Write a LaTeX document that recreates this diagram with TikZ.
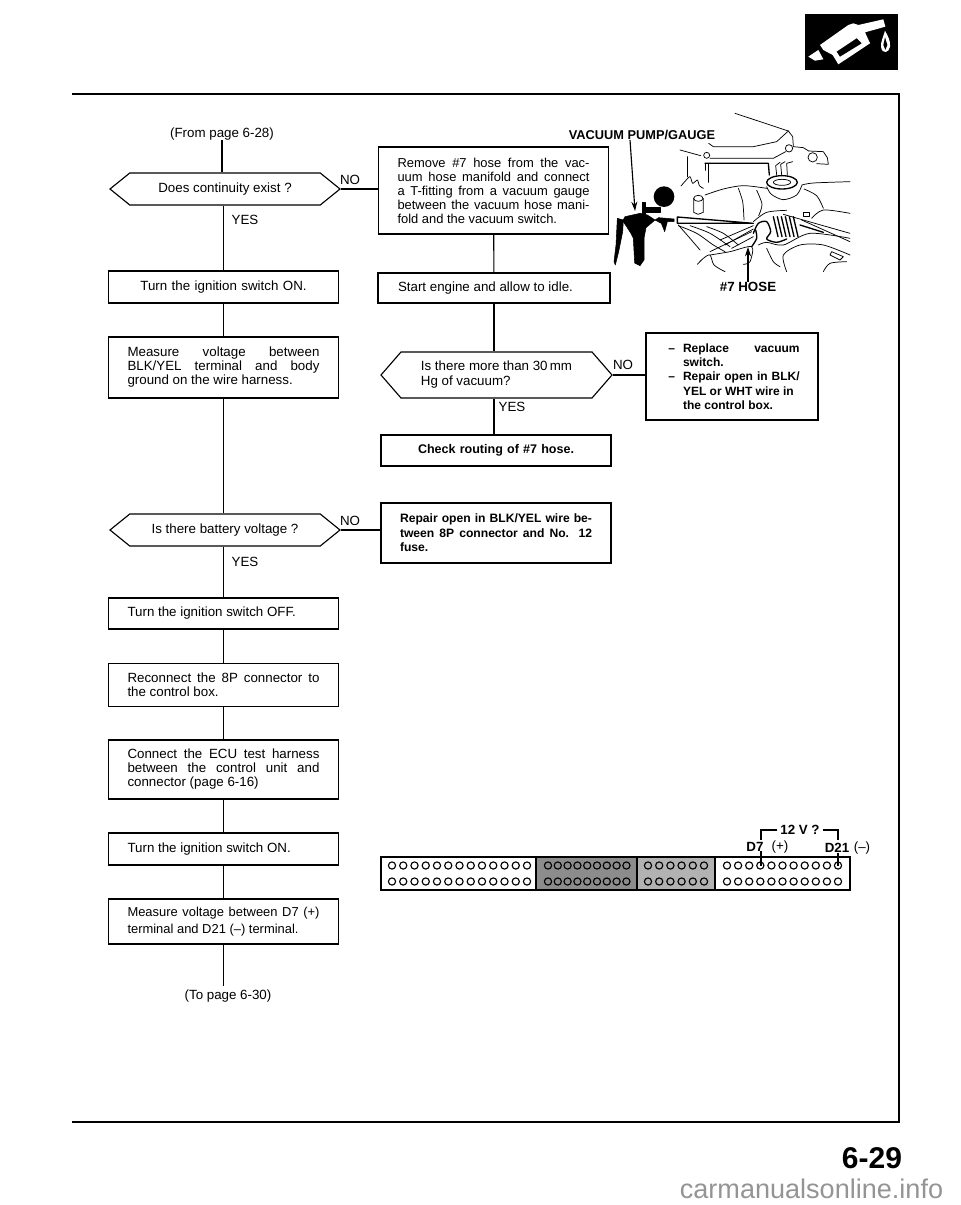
\documentclass[tikz,border=0pt]{standalone}
\usepackage{fontspec}
\setmainfont{Liberation Sans}
\usetikzlibrary{arrows.meta,shapes.symbols}
\newcommand{\fitline}[1]{\makebox[\hsize][s]{#1}}
\newcommand{\hangfit}[1]{\makebox[14pt][l]{\hspace*{3pt}--}\makebox[\dimexpr\hsize-14pt\relax][s]{#1}}
\begin{document}
\begin{tikzpicture}
% All coordinates in reference pixels
\def\pxsz{0.75pt}
\providecommand{\chartLineWidth}{0.85pt}
\providecommand{\frameLineWidth}{1.2pt}
\tikzset{
  chartnode/.style={draw=black, line width=\chartLineWidth, inner sep=1pt, font=\fontsize{10}{10.5}\selectfont},
  stepbox/.style={chartnode, rectangle, minimum width=229.5*\pxsz, text width=144pt, align=flush left},
  sidebox/.style={stepbox, minimum width=230*\pxsz},
  checkhex/.style={chartnode, signal, signal to=west and east, signal pointer angle=78, minimum width=230*\pxsz, minimum height=32*\pxsz, align=left},
  flowlabel/.style={inner sep=0pt, font=\fontsize{10}{12}\selectfont},
  boldlabel/.style={inner sep=0pt, font=\fontsize{10}{12}\selectfont\bfseries},
  flowline/.style={draw=black, line width=\chartLineWidth},
  pinhole/.style={draw=black, line width=0.85pt},
  sketch/.style={draw=black, line width=0.55pt, line join=round, line cap=round},
  heavy/.style={draw=black, line width=1pt, line join=round, line cap=round},
  solidpart/.style={fill=black, draw=black, line width=0.4pt, line join=round}
}
\begin{scope}[x=\pxsz, y=-\pxsz]
  \useasboundingbox (0,0) rectangle (960,1205);
  % Page frame
  \draw[line width=\frameLineWidth] (72,94) -- (899,94) -- (899,1122) -- (72,1122);
  % Left column
  \node[flowlabel] (frompage) at (222,134) {(From page 6-28)};
  \node[checkhex] (contq) at (225,189) {Does continuity exist ?};
  \node[flowlabel] (contyes) at (245,220) {YES};
  \node[flowlabel] (contno) at (350,180) {NO};
  \node[stepbox, minimum height=32*\pxsz, align=center] (ignon) at (223.5,287) {Turn the ignition switch ON.};
  \node[stepbox, minimum height=61*\pxsz] (measbk) at (223.5,367.5) {\fitline{Measure voltage between}\\\fitline{BLK/YEL terminal and body}\\ground on the wire harness.};
  \node[checkhex] (battq) at (225,530) {Is there battery voltage ?};
  \node[flowlabel] (battyes) at (245,562) {YES};
  \node[flowlabel] (battno) at (350,521) {NO};
  \node[stepbox, minimum height=31*\pxsz] (ignoff) at (223.5,613.5) {Turn the ignition switch OFF.};
  \node[stepbox, minimum height=43*\pxsz] (reconn) at (223.5,685) {\fitline{Reconnect the 8P connector to}\\the control box.};
  \node[stepbox, minimum height=59*\pxsz] (ecuconn) at (223.5,769.5) {\fitline{Connect the ECU test harness}\\\fitline{between the control unit and}\\connector (page 6-16)};
  \node[stepbox, minimum height=32*\pxsz] (ignontwo) at (223.5,849) {Turn the ignition switch ON.};
  \node[stepbox, minimum height=45*\pxsz, font=\fontsize{9.7}{12.8}\selectfont] (measdd) at (223.5,921.5) {\fitline{Measure voltage between D7 (+)}\\terminal and D21 (--) terminal.};
  \node[flowlabel] (topage) at (228,996) {(To page 6-30)};
  % Right column
  \node[sidebox, minimum height=87*\pxsz, font=\fontsize{9.7}{10.5}\selectfont] (hosebox) at (493.5,190.5) {\fitline{Remove \#7 hose from the vac-}\\\fitline{uum hose manifold and connect}\\\fitline{a T-fitting from a vacuum gauge}\\\fitline{between the vacuum hose mani-}\\fold and the vacuum switch.};
  \node[sidebox, minimum height=30*\pxsz, minimum width=232*\pxsz] (startbox) at (494,288) {Start engine and allow to idle.};
  \node[checkhex, signal pointer angle=98, minimum width=231*\pxsz, minimum height=46*\pxsz, font=\fontsize{10}{11.3}\selectfont] (vacq) at (496.5,375) {Is there more than 30\,mm\\Hg of vacuum?};
  \node[flowlabel] (vacyes) at (512,407) {YES};
  \node[flowlabel] (vacno) at (623,365) {NO};
  \node[sidebox, minimum height=31*\pxsz, align=center, font=\fontsize{9.4}{11}\selectfont\bfseries] (routebox) at (496,450.5) {Check routing of \#7 hose.};
  \node[sidebox, minimum height=60*\pxsz, font=\fontsize{9.1}{10.8}\selectfont\bfseries] (repairbox) at (496,533) {\fitline{Repair open in BLK/YEL wire be-}\\\fitline{tween 8P connector and No. 12}\\fuse.};
  \node[stepbox, minimum width=172*\pxsz, minimum height=87*\pxsz, text width=101.5pt, font=\fontsize{9}{10.7}\selectfont\bfseries] (replacebox) at (732,376.5) {\hangfit{Replace vacuum}\\\hspace*{14pt}switch.\\\hangfit{Repair open in BLK/}\\\hspace*{14pt}YEL or WHT wire in\\\hspace*{14pt}the control box.};
  % Connectors
  \draw[flowline] (frompage.south) -- (contq.north -| frompage.south);
  \draw[flowline] (contq.south -| ignon.north) -- (ignon.north);
  \draw[flowline] (ignon) -- (measbk);
  \draw[flowline] (measbk.south) -- (battq.north -| measbk.south);
  \draw[flowline] (battq.south -| ignoff.north) -- (ignoff.north);
  \draw[flowline] (ignoff) -- (reconn);
  \draw[flowline] (reconn) -- (ecuconn);
  \draw[flowline] (ecuconn) -- (ignontwo);
  \draw[flowline] (ignontwo) -- (measdd);
  \draw[flowline] (measdd.south) -- ([yshift=2.5pt]topage.north -| measdd.south);
  \draw[flowline] (contq.east) -- (contq.east -| hosebox.west);
  \draw[flowline] (battq.east) -- (battq.east -| repairbox.west);
  \draw[flowline] (hosebox) -- (startbox);
  \draw[flowline] (startbox.south) -- (vacq.north -| startbox.south);
  \draw[flowline] (vacq.south -| startbox.south) -- (routebox.north -| startbox.south);
  \draw[flowline] (vacq.east) -- (vacq.east -| replacebox.west);
  % Connector block
  \fill[black!45] (536,857) rectangle (637,890);
  \fill[black!30] (637,857) rectangle (715,890);
  \draw[line width=1.1pt] (381,857) rectangle (850,890);
  \draw[line width=1.1pt] (536,857) -- (536,890);
  \draw[line width=1.1pt] (637,857) -- (637,890);
  \draw[line width=1.1pt] (715,857) -- (715,890);
  \foreach \holey in {865.5,881.5} {
    \foreach \holen in {0,...,12} \draw[pinhole] ({392+\holen*11.25},\holey) circle[radius=3.6];
    \foreach \holen in {0,...,8} \draw[pinhole] ({548+\holen*9.8},\holey) circle[radius=3.6];
    \foreach \holen in {0,...,5} \draw[pinhole] ({648+\holen*11.2},\holey) circle[radius=3.6];
    \foreach \holen in {0,...,10} \draw[pinhole] ({727+\holen*11.1},\holey) circle[radius=3.6];
  }
  % Terminal labels
  \node[boldlabel] (voltlabel) at (800,830) {12 V ?};
  \node[boldlabel] (dseven) at (755,846.5) {D7};
  \node[flowlabel] (dsevensign) at (780,847) {(+)};
  \node[boldlabel] (dtwentyone) at (837,848) {D21};
  \node[flowlabel] (dtwentyonesign) at (862,848) {(--)};
  \coordinate (dsevenend) at (761,840);
  \coordinate (dtwentyoneend) at (838,840);
  \coordinate (dsevenhole) at (761,866);
  \coordinate (dtwentyonehole) at (838,866);
  \draw[flowline] ([xshift=-2pt]voltlabel.west) -| (dsevenend);
  \draw[flowline] ([xshift=2pt]voltlabel.east) -| (dtwentyoneend);
  \draw[flowline] (dseven.south -| dsevenhole) -- (dsevenhole);
  \draw[flowline] (dtwentyone.south -| dtwentyonehole) -- (dtwentyonehole);
  % Engine sketch
  \node[inner sep=0pt, font=\fontsize{9.6}{12}\selectfont\bfseries] (pumplabel) at (642,135) {VACUUM PUMP/GAUGE};
  \node[boldlabel] (hoselabel) at (748,287) {\#7 HOSE};
  \coordinate (pumptip) at (635,211);
  \coordinate (hosetip) at (748,247);
  \draw[line width=0.85pt, -{Stealth[length=7pt,width=4.5pt]}] ([xshift=-9pt]pumplabel.south) -- (pumptip);
  \draw[line width=0.85pt, -{Stealth[length=7pt,width=4.5pt]}] (hoselabel.north) -- (hosetip);
  \begin{scope}[shift={(610,105)}, x=0.25pt, y=-0.25pt]
    % Gauge
    \fill (162,275) circle[radius=31];
    \draw[solidpart] (100,308) rectangle (150,322);
    \draw[solidpart] (97,292) rectangle (106,335);
    \draw[solidpart] (146,338) -- (192,342) -- (192,350) -- (172,350) -- (164,380) -- (154,355) -- (135,345) -- cycle;
    \draw[solidpart] (45,335) -- (90,325) -- (112,330) -- (135,345) -- (108,368) -- (102,400) -- (102,465) -- (90,482) -- (74,474) -- (70,400) -- (62,384) -- (48,362) -- (38,348) -- cycle;
    \draw[solidpart] (22,340) -- (40,345) -- (38,380) -- (26,440) -- (16,480) -- (12,470) -- (18,420) -- cycle;
    % Upper bracket
    \draw[sketch] (375,25) -- (535,78) -- (548,95) -- (550,125) -- (580,128) -- (596,138);
    \draw[sketch] (535,78) -- (500,110) -- (430,125) -- (310,125) -- (296,115);
    \draw[sketch] (608,157) circle[radius=14];
    \draw[sketch] (596,138) -- (640,140) -- (652,158) -- (655,178) -- (620,176);
    \draw[sketch] (210,135) -- (272,152);
    \draw[sketch] (290,151) circle[radius=9];
    \draw[sketch] (537,130) circle[radius=11];
    \draw[sketch] (300,160) -- (490,160) -- (527,140);
    \draw[heavy] (285,175) -- (475,175) -- (478,210);
    \draw[sketch] (285,175) -- (285,196);
    \draw[sketch] (296,178) -- (296,232);
    \draw[sketch] (232,155) -- (232,215);
    \draw[sketch] plot[smooth] coordinates {(213,243) (226,228) (240,215) (248,235) (262,225) (268,242) (280,250)};
    % Filter can
    \draw[sketch] (265,280) ellipse[x radius=14, y radius=9];
    \draw[sketch] (251,280) -- (251,322) -- (264,328) -- (280,322) -- (280,280);
    % Dome
    \draw[heavy] (516,232) ellipse[x radius=46, y radius=20];
    \draw[sketch] (516,232) ellipse[x radius=26, y radius=9];
    \draw[sketch] plot[smooth] coordinates {(470,245) (484,268) (520,284) (560,270) (576,240)};
    \draw[sketch] (500,210) -- (497,182) -- (510,172);
    \draw[sketch] (515,210) -- (512,178) -- (525,170);
    \draw[sketch] (532,210) -- (530,175) -- (548,170);
    % Intake
    \draw[sketch] plot[smooth] coordinates {(285,270) (340,252) (400,242) (470,250)};
    \draw[sketch] plot[smooth] coordinates {(385,250) (398,290) (402,345)};
    \draw[sketch] plot[smooth] coordinates {(440,256) (456,298) (446,332)};
    \draw[sketch] plot[smooth] coordinates {(576,240) (610,234) (720,230)};
    \draw[sketch] plot[smooth] coordinates {(582,252) (620,272) (640,310)};
    \draw[sketch] plot[smooth] coordinates {(430,350) (470,322) (530,316)};
    % Hose with tube
    \draw[heavy, fill=white] (202,336) -- (430,355) -- (202,355) -- cycle;
    \draw[sketch] plot[smooth] coordinates {(205,362) (260,385) (310,420) (345,440)};
    \draw[sketch] plot[smooth] coordinates {(240,362) (300,385) (360,425)};
    \draw[sketch] plot[smooth] coordinates {(290,365) (340,385) (385,420)};
    \draw[sketch] (300,440) -- (425,380);
    \draw[sketch] (330,405) -- (430,362);
    \draw[sketch] (345,420) -- (430,372);
    \draw[sketch] (365,430) -- (430,395);
    \draw[heavy] plot[smooth] coordinates {(430,385) (445,355) (470,350) (482,380) (470,402) (500,412) (530,402)};
    \draw[heavy] plot[smooth] coordinates {(425,425) (440,400) (437,375)};
    \draw[sketch] plot[smooth] coordinates {(445,420) (470,412) (520,420) (600,385) (720,400)};
    \foreach \coilx in {490,502,514,526,538,550} \draw[heavy] (\coilx,335) -- ({\coilx+14},395);
    \draw[sketch] (520,328) -- (720,385);
    \draw[sketch] (575,345) -- (720,410);
    \draw[sketch] (580,322) rectangle (597,335);
    \draw[heavy] (570,360) -- (640,382);
    \draw[sketch] plot[smooth] coordinates {(605,340) (640,315) (720,325)};
    % Lower outline
    \draw[sketch] plot[smooth] coordinates {(262,478) (280,460) (300,450) (312,480) (345,500)};
    \draw[sketch] plot[smooth] coordinates {(300,450) (360,440) (425,425) (420,470) (400,478)};
    \draw[sketch] plot[smooth] coordinates {(470,430) (490,470) (510,485)};
    \draw[sketch] plot[smooth] coordinates {(530,500) (520,450) (570,420) (640,420) (720,450)};
    \draw[sketch] plot[smooth] coordinates {(640,500) (660,475) (710,470)};
    \draw[sketch] (665,440) -- (700,455) -- (690,465) -- (660,450) -- cycle;
    \draw[sketch] plot[smooth] coordinates {(205,360) (240,400) (270,435)};
  \end{scope}
  % Section badge
  \fill[black] (805,14) rectangle (898,70);
  \begin{scope}[shift={(780,0)}, x=0.25pt, y=-0.25pt]
    \fill[white] (120,135) -- (205,75) -- (220,70) -- (235,75) -- (310,58) -- (316,80) -- (255,97) -- (270,130) -- (175,193) -- (158,165) -- (130,150) -- cycle;
    \fill[black] (170,155) -- (230,115) -- (245,130) -- (180,170) -- cycle;
    \fill[white] (85,170) -- (115,150) -- (130,178) -- (105,182) -- cycle;
    \fill[white] (315,92) .. controls (325,110) and (332,125) .. (330,140) .. controls (328,158) and (306,165) .. (303,140) .. controls (302,125) and (310,110) .. (315,92) -- cycle;
    \fill[black] (315,112) -- (322,135) -- (316,150) -- (310,135) -- cycle;
  \end{scope}
  % Page number and site name
  \node[inner sep=0pt, font=\fontsize{22.5}{24}\selectfont\bfseries] (pagenum) at (872,1158) {6-29};
  \node[inner sep=0pt, text=black!42, font=\fontsize{20.3}{22}\selectfont] (sitename) at (811.5,1189) {carmanualsonline.info};
\end{scope}
\end{tikzpicture}
\end{document}
